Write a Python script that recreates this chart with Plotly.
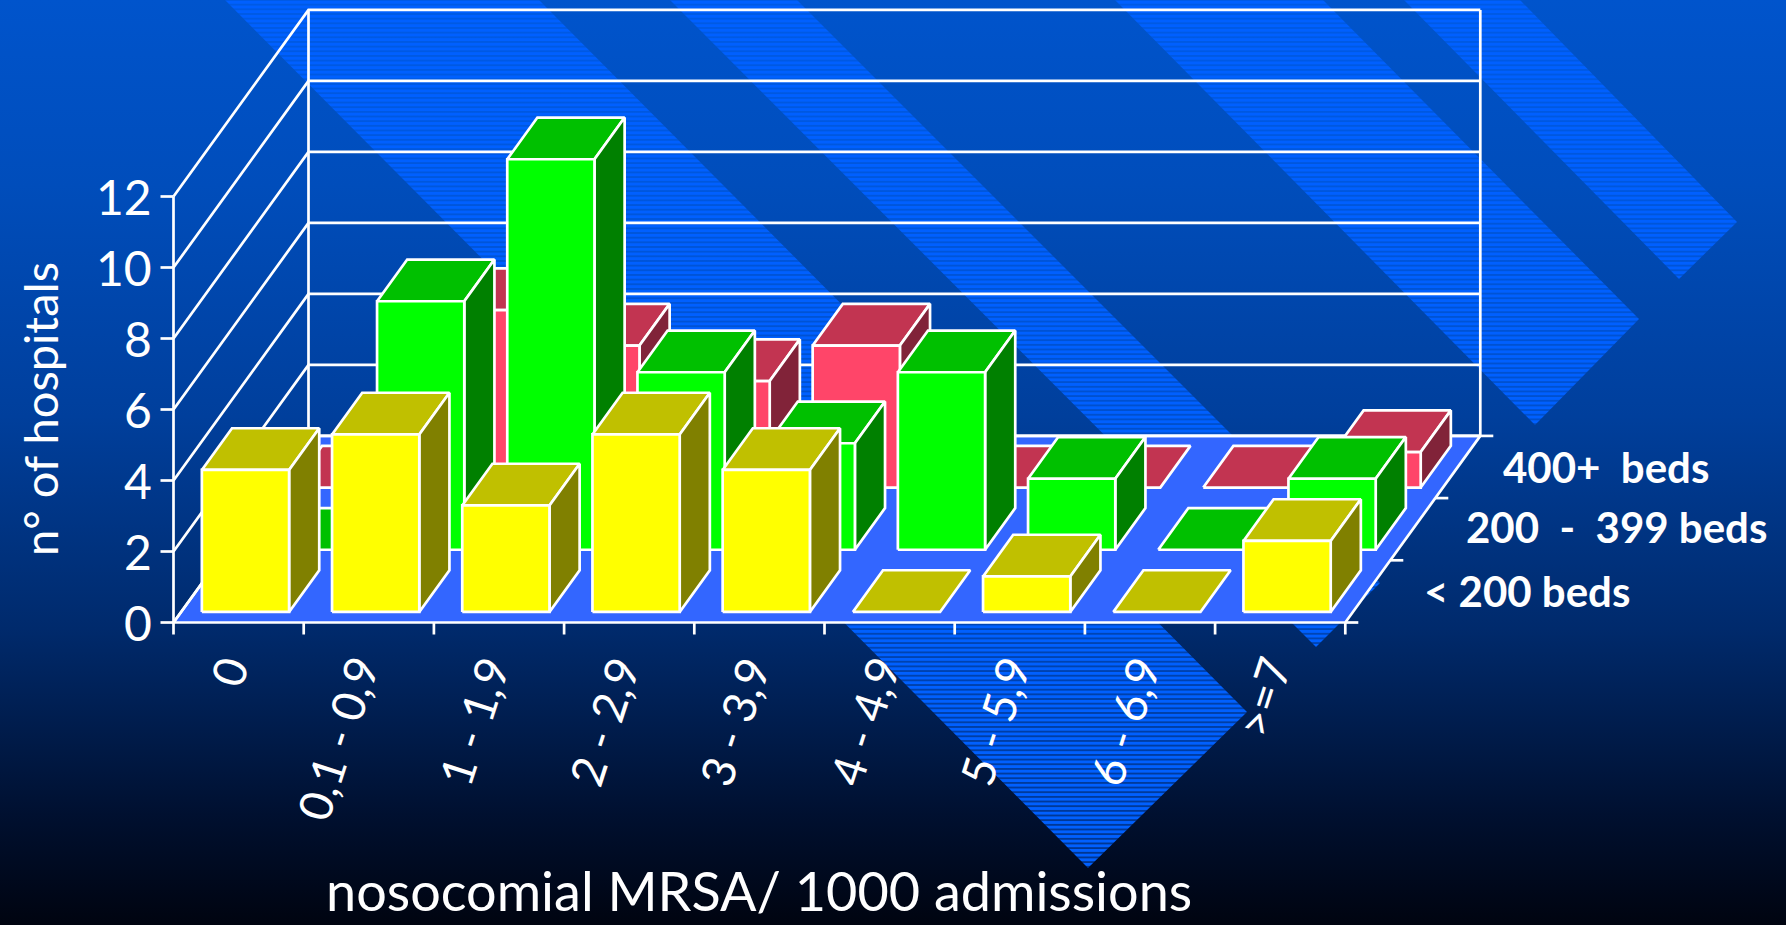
import plotly.graph_objects as go

# ---- data -----------------------------------------------------------------
categories = ["0", "0,1 - 0,9", "1 - 1,9", "2 - 2,9", "3 - 3,9",
              "4 - 4,9", "5 - 5,9", "6 - 6,9", ">=7"]
series_names = ["< 200 beds", "200  -  399 beds", "400+  beds"]
beds_lt_200 = [4, 5, 3, 5, 4, 0, 1, 0, 2]
beds_200_399 = [0, 7, 11, 5, 3, 5, 2, 0, 2]
beds_400_plus = [0, 5, 4, 3, 4, 0, 0, 0, 1]
y_ticks = [0, 2, 4, 6, 8, 10, 12]
y_title = "n° of hospitals"
x_title = "nosocomial MRSA/ 1000 admissions"

# ---- chart geometry (oblique projection) -----------------------------------
W, H = 1786, 925
ORIGIN_X, ORIGIN_Y = 173.5, 622.5      # pixel of category 0, value 0, depth 0
CAT_W, UNIT_H = 130.2, 35.5            # pixels per category / per value unit
DEPTH_X, DEPTH_Y = 45.0 / CAT_W, 62.2 / UNIT_H   # shift per depth slot, axis units
BAR_GAP, BAR_W = 0.159, 0.67
BAR_D0, BAR_D = 0.17, 0.67
N_CAT, N_DEPTH, Y_TOP = len(categories), len(series_names), max(y_ticks)
LW = 2.7

FONT = "Lato"
WHITE = "#FFFFFF"
FACES = [("#FFFF00", "#C0C000", "#808000"),
         ("#00FF00", "#00C000", "#008000"),
         ("#FF4569", "#C23451", "#812339")]


def proj(cat, val, depth):
    return cat + depth * DEPTH_X, val + depth * DEPTH_Y


def px(xp):
    return (xp - ORIGIN_X) / CAT_W


def py(yp):
    return (ORIGIN_Y - yp) / UNIT_H


fig = go.Figure()


def poly(points, fill=None, line=WHITE, width=LW):
    xs = [p[0] for p in points]
    ys = [p[1] for p in points]
    kw = dict(fill="toself", fillcolor=fill) if fill else {}
    fig.add_trace(go.Scatter(
        x=xs, y=ys, mode="lines", hoverinfo="skip", showlegend=False,
        line=dict(color=line if line else "rgba(0,0,0,0)", width=width if line else 0),
        **kw))


# background gradient
fig.add_trace(go.Scatter(
    x=[px(0), px(W), px(W), px(0), px(0)],
    y=[py(0), py(0), py(H), py(H), py(0)],
    mode="lines", line=dict(width=0), fill="toself", hoverinfo="skip", showlegend=False,
    fillgradient=dict(type="vertical", colorscale=[
        [0.0, "#000410"], [0.12, "#001030"], [0.32, "#002A6C"],
        [0.55, "#003F9C"], [0.8, "#004DBB"], [1.0, "#0054CC"]])))

# decorative striped chevron bands (left top, right top, right tip, apex)
bands = [
    [(225, 0), (539, 0), (1247, 712), (1088, 868)],
    [(670, 0), (797, 0), (1380, 583), (1316, 647)],
    [(1115, 0), (1323, 0), (1639, 319), (1535, 425)],
    [(1404, 0), (1520, 0), (1737, 222), (1679, 279)],
]
for b in bands:
    fig.add_trace(go.Scatter(
        x=[px(p[0]) for p in b] + [px(b[0][0])],
        y=[py(p[1]) for p in b] + [py(b[0][1])],
        mode="lines", line=dict(width=0), fill="toself", hoverinfo="skip", showlegend=False,
        fillcolor="rgba(0,0,0,0)",
        fillpattern=dict(shape="-", size=4.66, solidity=0.8,
                         fgcolor="#0060FF", bgcolor="rgba(0,0,0,0)", fgopacity=1)))

# floor
poly([proj(0, 0, 0), proj(N_CAT, 0, 0), proj(N_CAT, 0, N_DEPTH), proj(0, 0, N_DEPTH), proj(0, 0, 0)],
     fill="#3366FF")

# walls and gridlines
for v in y_ticks:
    poly([proj(0, v, 0), proj(0, v, N_DEPTH), proj(N_CAT, v, N_DEPTH)])
    poly([(px(ORIGIN_X - 13), v), proj(0, v, 0)])
poly([proj(0, 0, 0), proj(0, Y_TOP, 0)])
poly([proj(0, 0, N_DEPTH), proj(0, Y_TOP, N_DEPTH)])
poly([proj(N_CAT, 0, N_DEPTH), proj(N_CAT, Y_TOP, N_DEPTH)])

# axis ticks
for i in range(N_CAT + 1):
    poly([(i, 0), (i, -12 / UNIT_H)])
for d in range(N_DEPTH + 1):
    a = proj(N_CAT, 0, d)
    poly([a, (a[0] + 13 / CAT_W, a[1])])

# bars, back row first
rows = [beds_lt_200, beds_200_399, beds_400_plus]
for d in reversed(range(N_DEPTH)):
    front, top, side = FACES[d]
    for i, v in enumerate(rows[d]):
        x0, x1 = i + BAR_GAP, i + BAR_GAP + BAR_W
        d0, d1 = d + BAR_D0, d + BAR_D0 + BAR_D
        poly([proj(x0, v, d0), proj(x1, v, d0), proj(x1, v, d1), proj(x0, v, d1), proj(x0, v, d0)], fill=top)
        if v > 0:
            poly([proj(x1, 0, d0), proj(x1, 0, d1), proj(x1, v, d1), proj(x1, v, d0), proj(x1, 0, d0)], fill=side)
            poly([proj(x0, 0, d0), proj(x1, 0, d0), proj(x1, v, d0), proj(x0, v, d0), proj(x0, 0, d0)], fill=front)

ann = []
# y tick labels
for v in y_ticks:
    ann.append(dict(x=px(ORIGIN_X - 20), y=v, text=str(v), xanchor="right", yanchor="middle",
                    font=dict(family=FONT, size=48, color=WHITE)))
# x tick labels
for i, c in enumerate(categories):
    ann.append(dict(x=i + 0.68, y=py(648), text=c, textangle=-72, xanchor="right", yanchor="top",
                    font=dict(family=FONT, size=46, color=WHITE)))
# depth labels
for name, xp, yp in zip(series_names, (1527, 1616, 1606), (591, 527, 467)):
    ann.append(dict(x=px(xp), y=py(yp), text=name, xanchor="center", yanchor="middle",
                    font=dict(family=FONT, size=42, color=WHITE, weight="bold")))
# axis titles
ann.append(dict(x=px(759), y=py(890), text=x_title, xanchor="center", yanchor="middle",
                font=dict(family=FONT, size=54, color=WHITE)))
ann.append(dict(x=px(40), y=py(409), text=y_title, textangle=-90, xanchor="center", yanchor="middle",
                font=dict(family=FONT, size=47, color=WHITE)))
for a in ann:
    a.update(showarrow=False, xref="x", yref="y")

fig.update_layout(
    width=W, height=H, margin=dict(l=0, r=0, t=0, b=0),
    paper_bgcolor="#001030", plot_bgcolor="rgba(0,0,0,0)",
    annotations=ann, showlegend=False,
    xaxis=dict(range=[px(0), px(W)], visible=False, fixedrange=True),
    yaxis=dict(range=[py(H), py(0)], visible=False, fixedrange=True),
)
fig.write_html("out.html", config={"displayModeBar": False},
               post_script="document.body.style.margin='0';document.body.style.overflow='hidden';")
